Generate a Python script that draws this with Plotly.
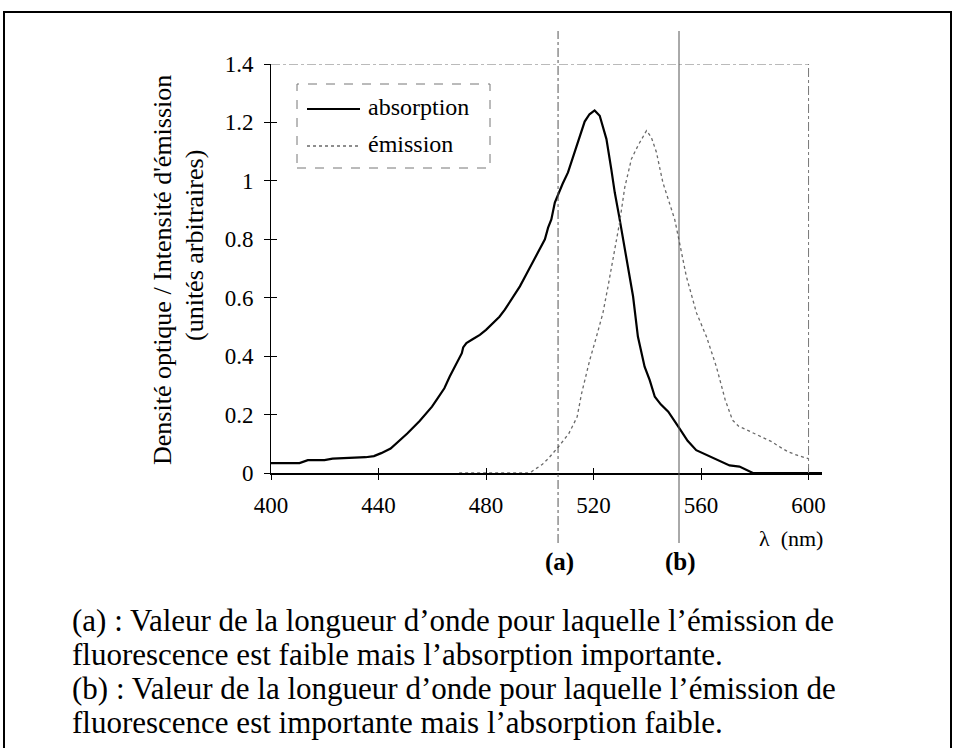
import plotly.graph_objects as go

# Absorption spectrum (optical density, arbitrary units)
abs_wavelength = [400, 410.6, 413.7, 419.9, 422.9, 430, 435.2, 438.3, 441, 444.5,
                  447.6, 450.7, 455.3, 459.9, 461.6, 464.5, 466.5, 469.5, 471, 471.5,
                  472.7, 475, 477.7, 480, 482.6, 485, 487, 490, 492.6, 495,
                  497.5, 500, 501.9, 503.1, 504.3, 505.6, 506.8, 508.5, 510.5, 512.3,
                  514.2, 516.7, 518.5, 520.4, 522.3, 524, 524.8, 526.6, 527.9, 529.5,
                  531, 532.2, 534.7, 536.5, 539, 540.9, 542.8, 545, 547.8, 551.6,
                  555, 558.2, 565, 570.6, 574.3, 576.5, 579.3, 605]
abs_value = [0.034, 0.034, 0.044, 0.044, 0.049, 0.052, 0.054, 0.058, 0.068, 0.084,
             0.11, 0.135, 0.178, 0.227, 0.25, 0.29, 0.33, 0.38, 0.41, 0.43,
             0.445, 0.458, 0.473, 0.49, 0.513, 0.535, 0.559, 0.6, 0.639, 0.68,
             0.725, 0.765, 0.80, 0.84, 0.868, 0.926, 0.954, 0.99, 1.029, 1.08,
             1.137, 1.203, 1.228, 1.241, 1.223, 1.17, 1.143, 1.04, 0.96, 0.88,
             0.80, 0.742, 0.605, 0.467, 0.364, 0.318, 0.261, 0.235, 0.21, 0.158,
             0.11, 0.078, 0.05, 0.026, 0.022, 0.012, 0.0, 0.0]

# Fluorescence emission spectrum (arbitrary units)
em_wavelength = [470, 495.4, 497, 499.2, 501, 503.1, 506.9, 510.8, 513.9, 515.5,
                 518.6, 521.1, 523.5, 525.4, 527.3, 529.7, 531.6, 534.1, 536.5, 538.5,
                 539.7, 541.5, 543.4, 545.8, 548.3, 550.2, 552, 554.5, 558.3, 562,
                 565.7, 567.5, 569, 571.7, 574, 577.1, 581, 586.3, 590, 592.5,
                 596, 600]
em_value = [0.0, 0.0, 0.005, 0.018, 0.03, 0.049, 0.089, 0.135, 0.192, 0.27,
            0.387, 0.467, 0.548, 0.639, 0.742, 0.857, 0.977, 1.075, 1.12, 1.155,
            1.172, 1.149, 1.098, 0.994, 0.926, 0.868, 0.788, 0.674, 0.548, 0.467,
            0.364, 0.3, 0.25, 0.181, 0.16, 0.147, 0.13, 0.107, 0.085, 0.072,
            0.06, 0.049]

# Axis ticks
x_ticks = [400, 440, 480, 520, 560, 600]
y_ticks = [0, 0.2, 0.4, 0.6, 0.8, 1.0, 1.2, 1.4]

# Marked wavelengths (a) and (b)
marker_names = ["(a)", "(b)"]
marker_wavelength = [506.8, 551.8]

legend_names = ["absorption", "émission"]
y_title_lines = ["Densité optique / Intensité d'émission", "(unités arbitraires)"]
x_title = "λ  (nm)"
caption_lines = [
    "(a) : Valeur de la longueur d’onde pour laquelle l’émission de",
    "fluorescence est faible mais l’absorption importante.",
    "(b) : Valeur de la longueur d’onde pour laquelle l’émission de",
    "fluorescence est importante mais l’absorption faible.",
]

W, H = 956, 748
ML, MR, MT, MB = 271, 134, 64, 275
PW, PH = W - ML - MR, H - MT - MB
SERIF = "Liberation Serif, Times New Roman, serif"


def px(xp):
    return (xp - ML) / PW


def py(yp):
    return (H - MB - yp) / PH


fig = go.Figure()
fig.add_trace(go.Scatter(x=abs_wavelength, y=abs_value, mode="lines",
                         line=dict(color="black", width=2.2), showlegend=False))
fig.add_trace(go.Scatter(x=em_wavelength, y=em_value, mode="lines",
                         line=dict(color="#6a6a6a", width=1.3, dash="dot"),
                         showlegend=False))

# invisible trace to activate the overlay axes carrying the inner tick halves
fig.add_trace(go.Scatter(x=[400], y=[0], xaxis="x2", yaxis="y2", mode="markers",
                         marker=dict(opacity=0), showlegend=False, hoverinfo="skip"))

shapes = []
# dashed frame on top and right of the plotting area
shapes.append(dict(type="line", xref="x", yref="y", x0=400, x1=600, y0=1.4, y1=1.4,
                   line=dict(color="#777", width=1, dash="dashdot")))
shapes.append(dict(type="line", xref="x", yref="y", x0=600, x1=600, y0=0, y1=1.4,
                   line=dict(color="#777", width=1, dash="dashdot")))
# vertical marker lines
dashes = ["dashdot", "solid"]
for wl, d in zip(marker_wavelength, dashes):
    shapes.append(dict(type="line", xref="x", yref="paper", x0=wl, x1=wl,
                       y0=py(543), y1=py(31),
                       line=dict(color="#555", width=1, dash=d)))
# legend box
shapes.append(dict(type="rect", xref="paper", yref="paper",
                   x0=px(297), x1=px(490), y0=py(168), y1=py(84),
                   line=dict(color="#777", width=1, dash="dash")))
shapes.append(dict(type="line", xref="paper", yref="paper",
                   x0=px(307), x1=px(360), y0=py(109), y1=py(109),
                   line=dict(color="black", width=2)))
shapes.append(dict(type="line", xref="paper", yref="paper",
                   x0=px(307), x1=px(360), y0=py(146), y1=py(146),
                   line=dict(color="#6a6a6a", width=1.3, dash="dot")))
# outer frame
shapes.append(dict(type="rect", xref="paper", yref="paper",
                   x0=px(4), x1=px(951), y0=py(790), y1=py(12),
                   line=dict(color="black", width=2)))

annotations = []
for name, yp in zip(legend_names, [107, 144]):
    annotations.append(dict(xref="paper", yref="paper", x=px(366), y=py(yp),
                            xanchor="left", yanchor="middle", text=name,
                            showarrow=False, font=dict(family=SERIF, size=24, color="black")))
for name, wl in zip(marker_names, marker_wavelength):
    annotations.append(dict(xref="x", yref="paper", x=wl + 0.6, y=py(562),
                            xanchor="center", yanchor="middle", text="<b>" + name + "</b>",
                            showarrow=False, font=dict(family=SERIF, size=25, color="black")))
annotations.append(dict(xref="paper", yref="paper", x=px(825), y=py(538),
                        xanchor="right", yanchor="middle", text=x_title,
                        showarrow=False, font=dict(family=SERIF, size=22, color="black")))
for line, (xc, yc) in zip(y_title_lines, [(162, 270), (194, 246)]):
    annotations.append(dict(xref="paper", yref="paper", x=px(xc), y=py(yc),
                            xanchor="center", yanchor="middle", textangle=-90, text=line,
                            showarrow=False, font=dict(family=SERIF, size=26, color="black")))
for line, yc in zip(caption_lines, [620, 654, 688, 722]):
    annotations.append(dict(xref="paper", yref="paper", x=px(70), y=py(yc),
                            xanchor="left", yanchor="middle", text=line,
                            showarrow=False, font=dict(family=SERIF, size=31, color="black")))

fig.update_layout(
    width=W, height=H,
    margin=dict(l=ML, r=MR, t=MT, b=MB),
    paper_bgcolor="white", plot_bgcolor="white",
    font=dict(family=SERIF, size=23, color="black"),
    xaxis=dict(range=[400, 605], tickvals=x_ticks, ticks="outside", ticklen=5,
               tickcolor="black", showgrid=False, zeroline=False, showline=True,
               linecolor="black", linewidth=1.5, ticklabelstandoff=6),
    yaxis=dict(range=[0, 1.4], tickvals=y_ticks, ticks="outside", ticklen=6,
               tickcolor="black", showgrid=False, zeroline=False, showline=True,
               linecolor="black", linewidth=1, ticklabelstandoff=6),
    xaxis2=dict(range=[400, 605], overlaying="x", anchor="y2", side="bottom",
                tickvals=x_ticks, ticks="inside", ticklen=5, tickcolor="black",
                showticklabels=False, showgrid=False, zeroline=False, showline=False),
    yaxis2=dict(range=[0, 1.4], overlaying="y", anchor="x2", side="left",
                tickvals=y_ticks, ticks="inside", ticklen=6, tickcolor="black",
                showticklabels=False, showgrid=False, zeroline=False, showline=False),
    shapes=shapes,
    annotations=annotations,
    showlegend=False,
)

fig.write_html("out.html")
